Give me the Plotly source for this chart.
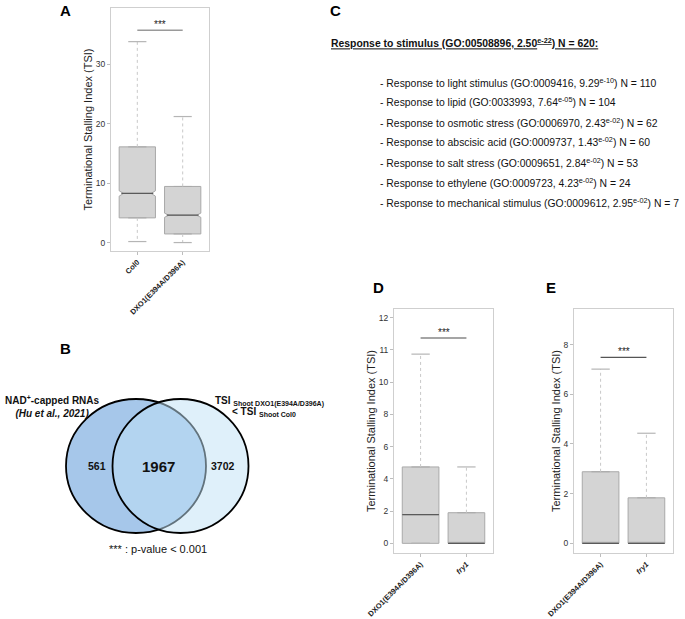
import plotly.graph_objects as go

W, H = 685, 619
FONT = "Liberation Sans, Arial, sans-serif"

# ---- panel A : TSI, Col0 vs DXO1 (notched) ----
a_groups = ["Col0", "DXO1(E394A/D396A)"]
a_low = [0.17, 0.0]
a_q1 = [4.15, 1.45]
a_med = [8.26, 4.6]
a_q3 = [16.1, 9.44]
a_high = [33.8, 21.2]
a_notch = [0.45, 0.35]
a_sig = 35.7

# ---- panel D : DXO1 vs fry1 (broken y axis above 10) ----
d_groups = ["DXO1(E394A/D396A)", "<i>fry1</i>"]
d_low = [0.0, 0.0]
d_q1 = [0.0, 0.0]
d_med = [1.78, 0.0]
d_q3 = [4.74, 1.9]
d_high = [10.87, 4.74]
d_sig = 11.37
d_ticks = [0, 2, 4, 6, 8, 10, 11, 12]

# ---- panel E ----
e_groups = ["DXO1(E394A/D396A)", "<i>fry1</i>"]
e_low = [0.0, 0.0]
e_q1 = [0.0, 0.0]
e_med = [0.0, 0.0]
e_q3 = [2.88, 1.83]
e_high = [7.01, 4.43]
e_sig = 7.48

# ---- panel B : venn counts ----
venn_left_only = 561
venn_both = 1967
venn_right_only = 3702

# ---- panel C : GO terms ----
go_head = ("Response to stimulus", "GO:00508896", "2.50", "-22", 620)
go_names = ["Response to light stimulus", "Response to lipid", "Response to osmotic stress",
            "Response to abscisic acid", "Response to salt stress", "Response to ethylene",
            "Response to mechanical stimulus"]
go_ids = ["GO:0009416", "GO:0033993", "GO:0006970", "GO:0009737", "GO:0009651",
          "GO:0009723", "GO:0009612"]
go_p = ["9.29", "7.64", "2.43", "1.43", "2.84", "4.23", "2.95"]
go_exp = ["-10", "-05", "-02", "-02", "-02", "-02", "-02"]
go_n = [110, 104, 62, 60, 53, 24, 7]


def brk(v):
    # compressed axis in panel D: 1 unit above 10 drawn twice as tall
    return v if v <= 10 else 10 + (v - 10) * 2


def px(x):
    return x / W


def py(y):
    return 1 - y / H


BOX_W = 0.8
NOTCH_W = 0.12
fig = go.Figure()


def add_boxes(xa, ya, low, q1, med, q3, high, sig, notch=None, tf=lambda v: v, sig_color="#9a9a9a", sig_w=1.5):
    for i in range(len(q1)):
        kw = {}
        if notch is not None:
            kw = dict(notched=True, notchspan=[notch[i]], notchwidth=NOTCH_W)
        fig.add_trace(go.Box(
            x=[i], q1=[tf(q1[i])], median=[tf(med[i])], q3=[tf(q3[i])],
            lowerfence=[tf(q1[i])], upperfence=[tf(q3[i])],
            width=BOX_W, fillcolor="#d4d4d4", line=dict(color="#a9a9a9", width=1),
            xaxis=xa, yaxis=ya, showlegend=False, hoverinfo="skip", **kw))
        # dotted whiskers
        fig.add_trace(go.Scatter(
            x=[i, i, None, i, i], y=[tf(q3[i]), tf(high[i]), None, tf(q1[i]), tf(low[i])],
            mode="lines", line=dict(color="#c8c8c8", width=1, dash="dot"),
            xaxis=xa, yaxis=ya, showlegend=False, hoverinfo="skip"))
        # caps
        for v in (low[i], high[i]):
            fig.add_trace(go.Scatter(
                x=[i - 0.2, i + 0.2], y=[tf(v), tf(v)], mode="lines",
                line=dict(color="#b5b5b5", width=1.2),
                xaxis=xa, yaxis=ya, showlegend=False, hoverinfo="skip"))
        # median
        half = BOX_W / 2 * ((1 - NOTCH_W) if notch is not None else 1)
        fig.add_trace(go.Scatter(
            x=[i - half, i + half], y=[tf(med[i]), tf(med[i])], mode="lines",
            line=dict(color="#5a5a5a", width=1.3),
            xaxis=xa, yaxis=ya, showlegend=False, hoverinfo="skip"))
    fig.add_trace(go.Scatter(
        x=[0, 1], y=[tf(sig), tf(sig)], mode="lines", line=dict(color=sig_color, width=sig_w),
        xaxis=xa, yaxis=ya, showlegend=False, hoverinfo="skip"))
    fig.add_annotation(x=0.5, y=tf(sig), xref=xa, yref=ya, text="***", showarrow=False,
                       yanchor="bottom", yshift=-2, font=dict(size=10, color="#222"))


add_boxes("x", "y", a_low, a_q1, a_med, a_q3, a_high, a_sig, notch=a_notch)
add_boxes("x2", "y2", d_low, d_q1, d_med, d_q3, d_high, d_sig, tf=brk, sig_color="#a5a5a5", sig_w=2.2)
add_boxes("x3", "y3", e_low, e_q1, e_med, e_q3, e_high, e_sig, sig_color="#555555", sig_w=1.2)

frame = dict(showline=True, mirror=True, linecolor="#cfcfcf", linewidth=1, showgrid=False,
             zeroline=False, ticks="outside", ticklen=3, tickcolor="#bdbdbd", automargin=False,
             tickfont=dict(size=8.5, color="#333", family=FONT))
ytitle = dict(text="Terminational Stalling Index (TSI)", font=dict(size=11, color="#222", family=FONT),
              standoff=0)


def xcat(dom, labels):
    d = dict(frame)
    d.update(domain=dom, range=[-0.58, 1.58], tickvals=[0, 1],
             ticktext=["<b>%s</b>" % t for t in labels], tickangle=-45,
             tickfont=dict(size=7.5, color="#222", family=FONT))
    return d


layout_axes = dict(
    xaxis=xcat([px(111), px(209)], a_groups),
    yaxis=dict(frame, domain=[py(251), py(8)], range=[-1.42, 39.46], tickvals=[0, 10, 20, 30],
               title=ytitle, anchor="x"),
    xaxis2=dict(xcat([px(394), px(493)], d_groups), anchor="y2"),
    yaxis2=dict(frame, domain=[py(553), py(309)], range=[-0.6, 14.54],
                tickvals=[brk(t) for t in d_ticks], ticktext=[str(t) for t in d_ticks],
                title=ytitle, anchor="x2"),
    xaxis3=dict(xcat([px(574), px(673)], e_groups), anchor="y3"),
    yaxis3=dict(frame, domain=[py(553), py(309)], range=[-0.39, 9.43], tickvals=[0, 2, 4, 6, 8],
                title=ytitle, anchor="x3"),
)

# ---- venn shapes (panel B) ----
r = 68
lc, rc, vy = (136, 466), (180.5, 466), 466
fig.add_shape(type="circle", xref="paper", yref="paper",
              x0=px(lc[0] - r - 2), x1=px(lc[0] + r + 2), y0=py(vy + r - 1), y1=py(vy - r + 1),
              fillcolor="#a6c7ea", line=dict(color="black", width=1.8))
fig.add_shape(type="circle", xref="paper", yref="paper",
              x0=px(rc[0] - r), x1=px(rc[0] + r), y0=py(vy + r - 1), y1=py(vy - r + 1),
              fillcolor="rgba(192,225,245,0.51)", line=dict(color="black", width=1.8))


def ann(x, y, text, size, xanchor="center", yanchor="middle", color="#111", align="center"):
    fig.add_annotation(x=px(x), y=py(y), xref="paper", yref="paper", text=text, showarrow=False,
                       xanchor=xanchor, yanchor=yanchor, align=align,
                       font=dict(size=size, color=color, family=FONT))


ann(96.5, 466, "<b>%d</b>" % venn_left_only, 10.5)
ann(158.5, 466, "<b>%d</b>" % venn_both, 15)
ann(223, 466, "<b>%d</b>" % venn_right_only, 10.5)
ann(52, 406, "<b>NAD<sup>+</sup>-capped RNAs</b><br><b><i>(Hu et al., 2021)</i></b>", 10)
ann(213, 401, "<b>TSI</b> <b><sub>Shoot DXO1(E394A/D396A)</sub></b>", 10, xanchor="left")
ann(230, 412, "<b>< TSI</b> <b><sub>Shoot Col0</sub></b>", 10, xanchor="left")
ann(158, 549, "*** : p-value < 0.001", 11)

# panel letters
for lx, ly, lt in [(58, 0, "A"), (58, 338, "B"), (328, 0, "C"), (371, 277, "D"), (544, 277, "E")]:
    ann(lx, ly, "<b>%s</b>" % lt, 15, xanchor="left", yanchor="top", color="black")

# ---- panel C text ----
head = "<u><b>%s (%s, %s<sup>e%s</sup>) N = %d:</b></u>" % go_head
ann(329, 43, head, 10.4, xanchor="left")
for k in range(len(go_names)):
    line = "- %s (%s, %s<sup>e%s</sup>) N = %d" % (go_names[k], go_ids[k], go_p[k], go_exp[k], go_n[k])
    ann(378, 82 + 20 * k, line, 10.4, xanchor="left")

fig.update_layout(
    width=W, height=H, autosize=False, margin=dict(l=0, r=0, t=0, b=0),
    paper_bgcolor="white", plot_bgcolor="white", showlegend=False,
    font=dict(family=FONT), **layout_axes)

# drop the default body margin so the figure sits at the window's corner
fig.write_html("out.html", config={"displayModeBar": False},
               post_script="document.body.style.margin='0';document.body.style.overflow='hidden';")
